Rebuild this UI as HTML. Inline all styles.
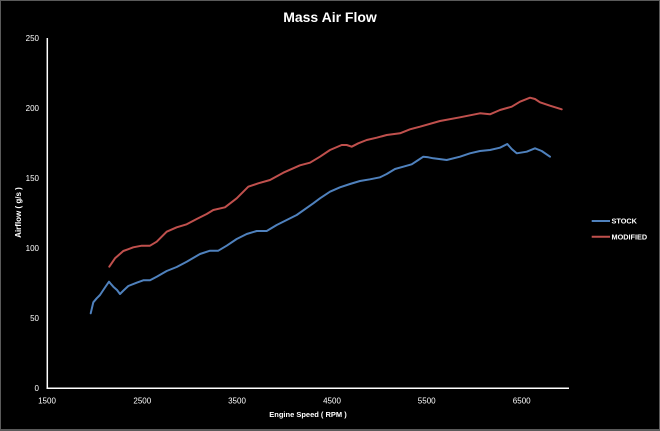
<!DOCTYPE html>
<html>
<head>
<meta charset="utf-8">
<style>
html,body{margin:0;padding:0;background:#000;}
svg{display:block;}
text{font-family:"Liberation Sans",sans-serif;fill:#fff;}
</style>
</head>
<body>
<svg width="660" height="431" viewBox="0 0 660 431" xmlns="http://www.w3.org/2000/svg">
<rect x="0" y="0" width="660" height="431" fill="#000"/>
<rect x="0.5" y="0.5" width="659" height="429" fill="none" stroke="#5a5a5a" stroke-width="1"/>
<line x1="0" y1="430.5" x2="660" y2="430.5" stroke="#5a5a5a" stroke-width="1"/>

<text x="330" y="22" font-size="14" font-weight="bold" text-anchor="middle">Mass Air Flow</text>

<!-- axes -->
<line x1="47.3" y1="38" x2="47.3" y2="388.8" stroke="#fff" stroke-width="1.5"/>
<line x1="46.5" y1="388.3" x2="569" y2="388.3" stroke="#fff" stroke-width="1.5"/>

<!-- y tick labels -->
<g font-size="8" text-anchor="end">
<text x="39" y="41">250</text>
<text x="39" y="111">200</text>
<text x="39" y="181">150</text>
<text x="39" y="251">100</text>
<text x="39" y="321">50</text>
<text x="39" y="391">0</text>
</g>

<!-- x tick labels -->
<g font-size="8" text-anchor="middle">
<text x="47" y="403.5">1500</text>
<text x="142.3" y="403.5">2500</text>
<text x="237" y="403.5">3500</text>
<text x="332" y="403.5">4500</text>
<text x="426.7" y="403.5">5500</text>
<text x="521.7" y="403.5">6500</text>
</g>

<text x="308" y="417" font-size="7.5" font-weight="bold" text-anchor="middle">Engine Speed ( RPM )</text>
<text transform="translate(21,212.5) rotate(-90)" font-size="8" font-weight="bold" text-anchor="middle">Airflow ( g/s )</text>

<!-- series -->
<polyline fill="none" stroke="#c0504d" stroke-width="2" stroke-linejoin="round" stroke-linecap="round" points="109.3,266.7 115,258.3 123.3,251 133.3,247.3 141.7,245.7 150,245.7 156.7,241.7 166.7,231.7 176.7,227.3 186.7,224.3 196.7,219 206.7,214 213.3,210 225,207.3 236.7,198.3 248.3,186.7 258.3,183.3 270,180 283.3,172.7 300,165.3 310,162.7 320,156.7 330,150 341.7,145 346.7,145 351.7,146.7 358.3,143.3 366.7,140 376.7,137.7 386.7,135 400,133.3 410,129.3 420,126.7 440,121 460,117.3 480,113.3 490,114.3 500,110 511.7,106.7 520,101.7 530,97.7 535,99 540,102.3 550,105.7 561.7,109.3"/>
<polyline fill="none" stroke="#4f81bd" stroke-width="2" stroke-linejoin="round" stroke-linecap="round" points="90.7,313.3 93.3,302.3 96.7,298.3 100,295 103.3,290 106,286 109,281.7 110.5,283.5 113.3,286.7 117,290 120,294 123,291 128.3,286 136.7,282.7 143.3,280.3 150,280.3 156.7,276.7 166.7,271 176.7,267 186.7,261.7 200,254 210,250.7 218.3,250.7 226.7,245.7 236.7,239 246.7,234 256.7,231 266.7,231 276.7,225 286.7,220 296.7,215 313.3,203.3 320,198.3 330,191.7 340,187.3 350,184 360,181 370,179.3 380,177.3 386.7,174 395,169 403.3,166.7 411.7,164.3 418.3,160 423.3,156.7 428.3,157.3 433.3,158.3 446.7,160 460,156.7 470,153.3 480,151 490,150 500,147.7 507.3,144 511.7,149 516.7,153.3 526.7,151.7 535,148.3 541.7,151 550,156.7"/>

<!-- legend -->
<line x1="591.7" y1="221" x2="610" y2="221" stroke="#4f81bd" stroke-width="2"/>
<line x1="591.7" y1="236.7" x2="610" y2="236.7" stroke="#c0504d" stroke-width="2"/>
<g font-size="7.3" font-weight="bold">
<text x="611.5" y="223.7">STOCK</text>
<text x="611.5" y="239.4">MODIFIED</text>
</g>
</svg>
</body>
</html>
